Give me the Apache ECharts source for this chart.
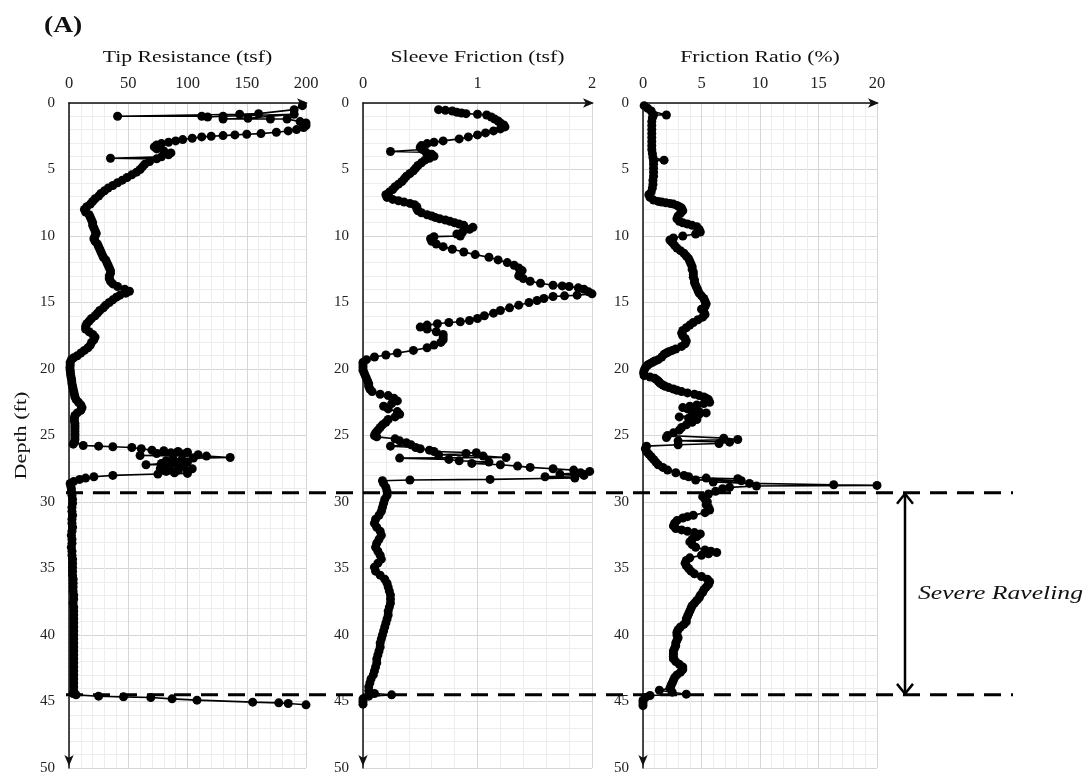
<!DOCTYPE html>
<html>
<head>
<meta charset="utf-8">
<script src="https://cdn.jsdelivr.net/npm/echarts@6/dist/echarts.min.js"></script>
<style>html,body{margin:0;padding:0;background:#fff;}#c{width:1092px;height:780px;}</style>
</head>
<body>
<div id="c"></div>
<script>
// ---- data: [depth (ft), value] ----
const tipResistance = [[0.2,197],[0.5,190],[0.8,160],[0.85,144],[1.0,41],[1.0,112],[1.05,117],[1.0,130],[0.85,190],[1.15,151],[1.2,130],[1.2,170],[1.2,184],[1.4,195],[1.5,200],[1.7,200],[1.85,198],[2.0,192],[2.1,185],[2.2,175],[2.3,162],[2.35,150],[2.4,140],[2.45,130],[2.5,120],[2.55,112],[2.65,104],[2.75,96],[2.85,90],[2.95,84],[3.05,78],[3.15,74],[3.3,72],[3.45,74],[3.6,80],[3.75,86],[3.9,84],[4.05,78],[4.15,35],[4.2,74],[4.4,68],[4.6,64],[4.8,62],[5.0,60],[5.2,57],[5.4,53],[5.6,49],[5.8,45],[6.0,41],[6.2,37],[6.4,33],[6.6,30],[6.8,27],[7.0,25],[7.2,22],[7.4,20],[7.6,18],[7.8,15],[8.0,13],[8.2,14],[8.4,17],[8.6,18],[8.8,19],[9.0,20],[9.2,20],[9.4,21],[9.6,22],[9.8,23],[10.0,22],[10.2,21],[10.4,22],[10.6,24],[10.8,25],[11.0,26],[11.2,27],[11.4,28],[11.6,29],[11.8,31],[12.0,32],[12.2,33],[12.4,34],[12.6,35],[12.8,35],[13.0,34],[13.2,34],[13.4,35],[13.6,37],[13.8,41],[14.0,47],[14.15,51],[14.3,48],[14.45,43],[14.6,40],[14.8,37],[15.0,34],[15.2,31],[15.4,29],[15.6,26],[15.8,24],[16.0,22],[16.2,19],[16.4,17],[16.6,15],[16.8,14],[17.0,14],[17.2,17],[17.4,20],[17.6,22],[17.8,21],[18.0,19],[18.2,18],[18.4,16],[18.6,13],[18.8,10],[19.0,7],[19.15,4],[19.3,2],[19.5,1],[19.7,1],[19.9,0.8],[20.1,1],[20.3,1.2],[20.5,1.5],[20.7,2],[20.9,2.3],[21.1,2.5],[21.3,3],[21.5,3.5],[21.7,4],[21.9,4.5],[22.1,5],[22.3,6],[22.5,8],[22.7,10],[22.9,11],[23.1,10],[23.3,7],[23.5,5],[23.7,4.5],[23.9,4.5],[24.1,5],[24.3,5],[24.5,5],[24.7,5],[24.9,5],[25.1,5],[25.3,5],[25.5,4.5],[25.65,3.6],[25.75,12],[25.8,25],[25.85,37],[25.9,53],[26.0,61],[26.1,70],[26.15,80],[26.2,92],[26.25,100],[26.3,86],[26.35,74],[26.4,96],[26.45,109],[26.5,60],[26.55,116],[26.65,136],[26.7,105],[26.8,88],[26.85,95],[26.9,82],[27.0,100],[27.05,90],[27.1,78],[27.2,65],[27.2,85],[27.3,93],[27.35,80],[27.4,97],[27.5,104],[27.5,77],[27.6,92],[27.7,82],[27.8,89],[27.85,100],[27.9,75],[28.0,37],[28.1,21],[28.2,14],[28.3,9],[28.45,4],[28.6,1],[28.8,1.5],[29.0,2],[29.2,2],[29.5,2.5],[29.8,3],[30.1,3],[30.4,2.5],[30.7,2.5],[31.0,3],[31.3,2.5],[31.6,2.5],[31.9,3],[32.2,2.5],[32.5,2],[32.8,2.5],[33.1,2.5],[33.4,2],[33.7,2.5],[34.0,2.5],[34.3,3],[34.6,3],[34.9,3],[35.2,3],[35.5,3],[35.8,3.5],[36.1,3.5],[36.4,3.5],[36.7,3.5],[37.0,4],[37.3,4],[37.6,3.5],[37.9,4],[38.2,4],[38.5,4],[38.8,4],[39.1,4],[39.4,4],[39.7,4],[40.0,4],[40.3,4],[40.6,4],[40.9,4],[41.2,4],[41.5,4],[41.8,4],[42.1,4],[42.4,4],[42.7,4],[43.0,4],[43.3,4],[43.6,4],[43.9,4],[44.2,4],[44.4,3.5],[44.5,6],[44.6,25],[44.65,46],[44.7,69],[44.8,87],[44.9,108],[45.05,155],[45.1,177],[45.15,185],[45.25,200]];

const sleeveFriction = [[0.5,0.66],[0.55,0.72],[0.6,0.78],[0.7,0.82],[0.75,0.86],[0.8,0.9],[0.85,1.0],[0.9,1.08],[1.05,1.12],[1.2,1.15],[1.35,1.18],[1.5,1.2],[1.65,1.23],[1.8,1.24],[1.95,1.2],[2.1,1.14],[2.25,1.07],[2.4,1.0],[2.55,0.92],[2.7,0.84],[2.85,0.7],[2.95,0.62],[3.05,0.56],[3.2,0.51],[3.35,0.5],[3.5,0.52],[3.65,0.24],[3.7,0.55],[3.85,0.6],[4.0,0.62],[4.15,0.58],[4.3,0.54],[4.5,0.51],[4.7,0.48],[4.9,0.46],[5.1,0.44],[5.3,0.41],[5.5,0.38],[5.7,0.36],[5.9,0.34],[6.1,0.31],[6.3,0.28],[6.5,0.26],[6.7,0.23],[6.9,0.2],[7.1,0.21],[7.25,0.26],[7.35,0.31],[7.45,0.36],[7.55,0.41],[7.65,0.45],[7.8,0.47],[7.95,0.47],[8.1,0.48],[8.25,0.51],[8.4,0.56],[8.5,0.6],[8.6,0.63],[8.7,0.67],[8.8,0.72],[8.9,0.76],[9.0,0.8],[9.1,0.84],[9.2,0.88],[9.35,0.96],[9.5,0.93],[9.7,0.87],[9.85,0.82],[10.0,0.85],[10.05,0.62],[10.2,0.59],[10.4,0.6],[10.6,0.64],[10.8,0.7],[11.0,0.78],[11.2,0.88],[11.4,0.98],[11.6,1.1],[11.8,1.18],[12.0,1.26],[12.2,1.32],[12.4,1.36],[12.6,1.39],[12.8,1.37],[13.0,1.36],[13.2,1.4],[13.4,1.46],[13.55,1.55],[13.7,1.66],[13.75,1.74],[13.8,1.8],[13.9,1.88],[14.0,1.93],[14.2,1.97],[14.35,2.0],[14.45,1.87],[14.5,1.76],[14.55,1.66],[14.7,1.58],[14.85,1.52],[15.0,1.45],[15.2,1.36],[15.4,1.28],[15.6,1.2],[15.8,1.14],[16.0,1.06],[16.2,1.0],[16.35,0.93],[16.45,0.85],[16.5,0.75],[16.6,0.65],[16.7,0.56],[16.85,0.5],[17.0,0.56],[17.2,0.64],[17.4,0.7],[17.6,0.7],[17.8,0.7],[18.0,0.68],[18.2,0.62],[18.4,0.56],[18.6,0.44],[18.8,0.3],[18.95,0.2],[19.1,0.1],[19.3,0.03],[19.5,0.0],[19.7,0.0],[19.9,0.0],[20.1,0.0],[20.3,0.01],[20.5,0.02],[20.7,0.03],[20.9,0.04],[21.1,0.05],[21.3,0.05],[21.5,0.06],[21.7,0.08],[21.9,0.15],[22.0,0.22],[22.2,0.27],[22.4,0.3],[22.6,0.25],[22.8,0.18],[23.0,0.22],[23.2,0.3],[23.4,0.32],[23.6,0.28],[23.8,0.22],[24.0,0.2],[24.2,0.17],[24.4,0.15],[24.6,0.13],[24.8,0.11],[25.0,0.1],[25.1,0.12],[25.25,0.28],[25.4,0.32],[25.55,0.38],[25.7,0.42],[25.8,0.24],[25.9,0.46],[26.0,0.5],[26.1,0.58],[26.2,0.62],[26.3,0.99],[26.35,0.9],[26.45,0.66],[26.55,1.05],[26.65,1.25],[26.7,0.32],[26.8,0.75],[26.9,0.84],[27.0,1.1],[27.1,0.95],[27.2,1.2],[27.3,1.35],[27.4,1.46],[27.5,1.66],[27.6,1.84],[27.7,1.98],[27.8,1.9],[27.9,1.72],[28.0,1.93],[28.1,1.59],[28.2,1.85],[28.3,1.11],[28.35,0.41],[28.4,0.17],[28.6,0.18],[28.9,0.2],[29.2,0.21],[29.5,0.21],[29.8,0.19],[30.1,0.18],[30.4,0.17],[30.7,0.16],[31.0,0.14],[31.3,0.11],[31.6,0.1],[31.9,0.12],[32.2,0.15],[32.5,0.16],[32.8,0.14],[33.1,0.12],[33.4,0.11],[33.7,0.13],[34.0,0.15],[34.3,0.16],[34.6,0.13],[34.9,0.1],[35.2,0.11],[35.5,0.15],[35.8,0.19],[36.1,0.21],[36.4,0.22],[36.7,0.23],[37.0,0.24],[37.3,0.24],[37.6,0.24],[37.9,0.23],[38.2,0.22],[38.5,0.22],[38.8,0.21],[39.1,0.2],[39.4,0.19],[39.7,0.18],[40.0,0.17],[40.3,0.16],[40.6,0.15],[40.9,0.15],[41.2,0.14],[41.5,0.13],[41.8,0.12],[42.1,0.12],[42.4,0.11],[42.7,0.1],[43.0,0.09],[43.3,0.07],[43.6,0.06],[43.9,0.05],[44.2,0.05],[44.4,0.1],[44.5,0.25],[44.6,0.05],[44.8,0.0],[45.0,0.0],[45.2,0.0]];

const frictionRatio = [[0.2,0.1],[0.4,0.4],[0.6,0.7],[0.9,2.0],[0.9,0.9],[1.1,0.8],[1.4,0.75],[1.7,0.75],[2.0,0.75],[2.3,0.75],[2.6,0.75],[2.9,0.75],[3.2,0.75],[3.5,0.75],[3.8,0.8],[4.1,0.85],[4.3,1.8],[4.35,0.9],[4.6,0.9],[4.9,0.9],[5.2,0.9],[5.5,0.9],[5.8,0.85],[6.1,0.85],[6.4,0.8],[6.7,0.7],[6.9,0.5],[7.1,0.6],[7.3,0.9],[7.4,1.3],[7.45,1.6],[7.5,1.95],[7.55,2.3],[7.6,2.6],[7.7,2.9],[7.8,3.1],[7.9,3.3],[8.1,3.4],[8.3,3.2],[8.5,3.0],[8.7,2.9],[8.9,3.1],[9.0,3.4],[9.1,3.8],[9.2,4.2],[9.3,4.6],[9.5,4.8],[9.7,4.9],[9.85,4.5],[10.0,3.4],[10.15,2.6],[10.3,2.3],[10.5,2.5],[10.7,2.7],[10.9,2.9],[11.1,3.2],[11.3,3.5],[11.5,3.7],[11.7,3.9],[11.9,4.0],[12.1,4.1],[12.3,4.2],[12.5,4.2],[12.7,4.3],[12.9,4.3],[13.1,4.3],[13.3,4.4],[13.5,4.4],[13.7,4.5],[13.9,4.6],[14.1,4.7],[14.3,4.8],[14.5,5.0],[14.7,5.2],[14.9,5.3],[15.1,5.4],[15.3,5.3],[15.5,5.0],[15.7,5.2],[15.9,5.3],[16.1,5.1],[16.3,4.7],[16.5,4.3],[16.7,4.0],[16.9,3.7],[17.1,3.4],[17.3,3.3],[17.5,3.4],[17.7,3.6],[17.9,3.7],[18.1,3.6],[18.3,3.3],[18.5,2.8],[18.6,2.5],[18.7,2.2],[18.8,2.0],[18.9,1.8],[19.1,1.6],[19.3,1.3],[19.4,1.0],[19.5,0.8],[19.6,0.6],[19.7,0.4],[19.9,0.2],[20.1,0.1],[20.3,0.05],[20.5,0.1],[20.6,0.6],[20.7,1.0],[20.8,1.15],[20.9,1.3],[21.0,1.4],[21.1,1.5],[21.2,1.7],[21.3,1.9],[21.4,2.2],[21.5,2.6],[21.6,2.9],[21.7,3.3],[21.8,3.8],[21.9,4.4],[22.0,4.8],[22.1,5.2],[22.2,5.4],[22.3,5.6],[22.5,5.7],[22.6,5.2],[22.7,4.6],[22.8,4.0],[22.9,3.4],[23.0,3.8],[23.1,4.2],[23.2,4.8],[23.3,5.4],[23.4,4.8],[23.5,4.2],[23.6,3.1],[23.7,3.9],[23.8,4.6],[24.0,4.2],[24.2,3.7],[24.4,3.3],[24.6,3.1],[24.8,2.6],[25.0,2.1],[25.15,2.0],[25.2,6.9],[25.3,8.1],[25.4,3.0],[25.5,7.4],[25.6,6.5],[25.7,3.0],[25.8,0.3],[26.0,0.2],[26.2,0.3],[26.4,0.5],[26.6,0.7],[26.8,0.9],[27.0,1.1],[27.2,1.3],[27.4,1.7],[27.6,2.1],[27.8,2.8],[28.0,3.5],[28.1,3.9],[28.2,5.4],[28.25,8.1],[28.35,4.5],[28.4,8.4],[28.5,6.0],[28.6,9.1],[28.7,16.3],[28.75,20.0],[28.8,9.7],[28.9,7.4],[29.0,6.8],[29.2,6.2],[29.4,5.6],[29.6,5.1],[29.8,5.3],[30.0,5.5],[30.2,5.4],[30.4,5.6],[30.6,5.7],[30.8,5.3],[31.0,4.3],[31.1,3.8],[31.2,3.4],[31.4,2.9],[31.6,2.7],[31.8,2.6],[32.0,2.8],[32.1,3.3],[32.2,3.8],[32.3,4.4],[32.4,4.9],[32.6,4.6],[32.8,4.2],[33.0,4.0],[33.2,4.2],[33.4,4.5],[33.6,5.3],[33.7,5.8],[33.8,6.3],[33.9,5.6],[34.0,5.0],[34.2,4.0],[34.4,3.7],[34.6,3.6],[34.8,3.7],[35.0,3.9],[35.2,4.1],[35.4,4.4],[35.6,5.0],[35.8,5.5],[36.0,5.7],[36.2,5.6],[36.4,5.4],[36.6,5.2],[36.8,5.1],[37.0,4.9],[37.2,4.8],[37.4,4.6],[37.6,4.4],[37.8,4.2],[38.0,4.1],[38.2,4.0],[38.4,3.9],[38.6,3.8],[38.8,3.7],[39.0,3.7],[39.2,3.5],[39.4,3.2],[39.6,3.0],[39.8,2.9],[40.0,2.9],[40.2,3.0],[40.4,2.9],[40.6,2.8],[40.8,2.8],[41.0,2.7],[41.2,2.6],[41.4,2.6],[41.6,2.6],[41.8,2.6],[42.0,2.8],[42.2,3.1],[42.4,3.4],[42.6,3.4],[42.8,3.2],[43.0,2.9],[43.2,2.7],[43.4,2.6],[43.6,2.5],[43.8,2.4],[44.0,2.3],[44.15,1.4],[44.3,2.5],[44.45,3.7],[44.55,0.6],[44.7,0.2],[44.9,0.0],[45.1,0.0],[45.3,0.0]];

const panelTitles = ['Tip Resistance (tsf)', 'Sleeve Friction (tsf)', 'Friction Ratio (%)'];
const xMax = [200, 2, 20];
const xInterval = [50, 1, 5];
const depthMax = 50;
const depthInterval = 5;
const ravelingDepths = [29.3, 44.5];
const ravelingLabel = 'Severe Raveling';
const panelLabel = '(A)';
const depthLabel = 'Depth (ft)';

const FONT = "'Liberation Serif', 'Times New Roman', serif";
const chart = echarts.init(document.getElementById('c'), null, {renderer: 'canvas'});

const grids = [
  {left: 69, top: 103, width: 237, height: 665},
  {left: 363, top: 103, width: 229, height: 665},
  {left: 643, top: 103, width: 234, height: 665}
];
const seriesData = [tipResistance, sleeveFriction, frictionRatio];

const xAxes = grids.map((g, i) => ({
  gridIndex: i, type: 'value', position: 'top', min: 0, max: xMax[i], interval: xInterval[i],
  axisLine: {show: true, onZero: false, symbol: ['none', 'arrow'], symbolSize: [7, 11], symbolOffset: [0, 2], lineStyle: {color: '#111', width: 1.5}},
  axisTick: {show: false},
  axisLabel: {fontFamily: FONT, fontSize: 16.5, color: '#222', margin: 11},
  splitLine: {show: true, lineStyle: {color: '#d6d6d6', width: 1}},
  minorTick: {show: false, splitNumber: 5},
  minorSplitLine: {show: true, lineStyle: {color: '#ededed', width: 1}}
}));
const yAxes = grids.map((g, i) => ({
  gridIndex: i, type: 'value', inverse: true, min: 0, max: depthMax, interval: depthInterval,
  axisLine: {show: true, onZero: false, symbol: ['arrow', 'none'], symbolSize: [7, 11], symbolOffset: [2, 0], lineStyle: {color: '#111', width: 1.5}},
  axisTick: {show: false},
  axisLabel: {fontFamily: FONT, fontSize: 15, color: '#222', margin: 14},
  splitLine: {show: true, lineStyle: {color: '#d6d6d6', width: 1}},
  minorTick: {show: false, splitNumber: 5},
  minorSplitLine: {show: true, lineStyle: {color: '#ededed', width: 1}}
}));
const series = seriesData.map((arr, i) => ({
  type: 'line', xAxisIndex: i, yAxisIndex: i,
  data: arr.map(p => [p[1], p[0]]),
  symbol: 'circle', symbolSize: 9, showSymbol: true, showAllSymbol: true,
  itemStyle: {color: '#000'}, lineStyle: {color: '#000', width: 1.6},
  clip: true, z: 3
}));

chart.setOption({
  animation: false,
  backgroundColor: '#fff',
  grid: grids.map(g => Object.assign({containLabel: false}, g)),
  xAxis: xAxes, yAxis: yAxes, series: series
});

function drawOverlay() {
  const x0 = chart.convertToPixel({xAxisIndex: 0}, 0);
  const xEnd = 1013;
  const arrowX = 905;
  const ys = ravelingDepths.map(d => chart.convertToPixel({yAxisIndex: 0}, d));
  const yTop = chart.convertToPixel({yAxisIndex: 0}, 0);
  const yBot = chart.convertToPixel({yAxisIndex: 0}, depthMax);
  const els = [];
  ys.forEach(y => {
    els.push({type: 'line', z: 10, shape: {x1: x0 - 3, y1: y, x2: xEnd, y2: y},
      style: {stroke: '#000', lineWidth: 3, lineDash: [17, 10]}});
  });
  els.push({type: 'line', z: 10, shape: {x1: arrowX, y1: ys[0] + 1, x2: arrowX, y2: ys[1] - 1}, style: {stroke: '#000', lineWidth: 2.5}});
  els.push({type: 'polyline', z: 10, shape: {points: [[arrowX - 8, ys[0] + 11], [arrowX, ys[0] + 1], [arrowX + 8, ys[0] + 11]]}, style: {stroke: '#000', lineWidth: 2.5, fill: null}});
  els.push({type: 'polyline', z: 10, shape: {points: [[arrowX - 8, ys[1] - 11], [arrowX, ys[1] - 1], [arrowX + 8, ys[1] - 11]]}, style: {stroke: '#000', lineWidth: 2.5, fill: null}});
  els.push({type: 'text', z: 10, x: 918, y: (ys[0] + ys[1]) / 2, scaleX: 1.35,
    style: {text: ravelingLabel, font: 'italic 19px ' + FONT, fill: '#111', align: 'left', verticalAlign: 'middle'}});
  els.push({type: 'text', z: 10, x: 44, y: 26, scaleX: 1.15,
    style: {text: panelLabel, font: 'bold 24px ' + FONT, fill: '#111', align: 'left', verticalAlign: 'middle'}});
  panelTitles.forEach((t, i) => {
    const cx = chart.convertToPixel({xAxisIndex: i}, xMax[i] / 2);
    els.push({type: 'text', z: 10, x: cx, y: 58, scaleX: 1.28,
      style: {text: t, font: '17px ' + FONT, fill: '#111', align: 'center', verticalAlign: 'middle'}});
  });
  els.push({type: 'text', z: 10, x: 22, y: (yTop + yBot) / 2, rotation: Math.PI / 2, scaleX: 1.3,
    style: {text: depthLabel, font: '17px ' + FONT, fill: '#111', align: 'center', verticalAlign: 'middle'}});
  chart.setOption({graphic: els});
}
drawOverlay();
</script>
</body>
</html>
